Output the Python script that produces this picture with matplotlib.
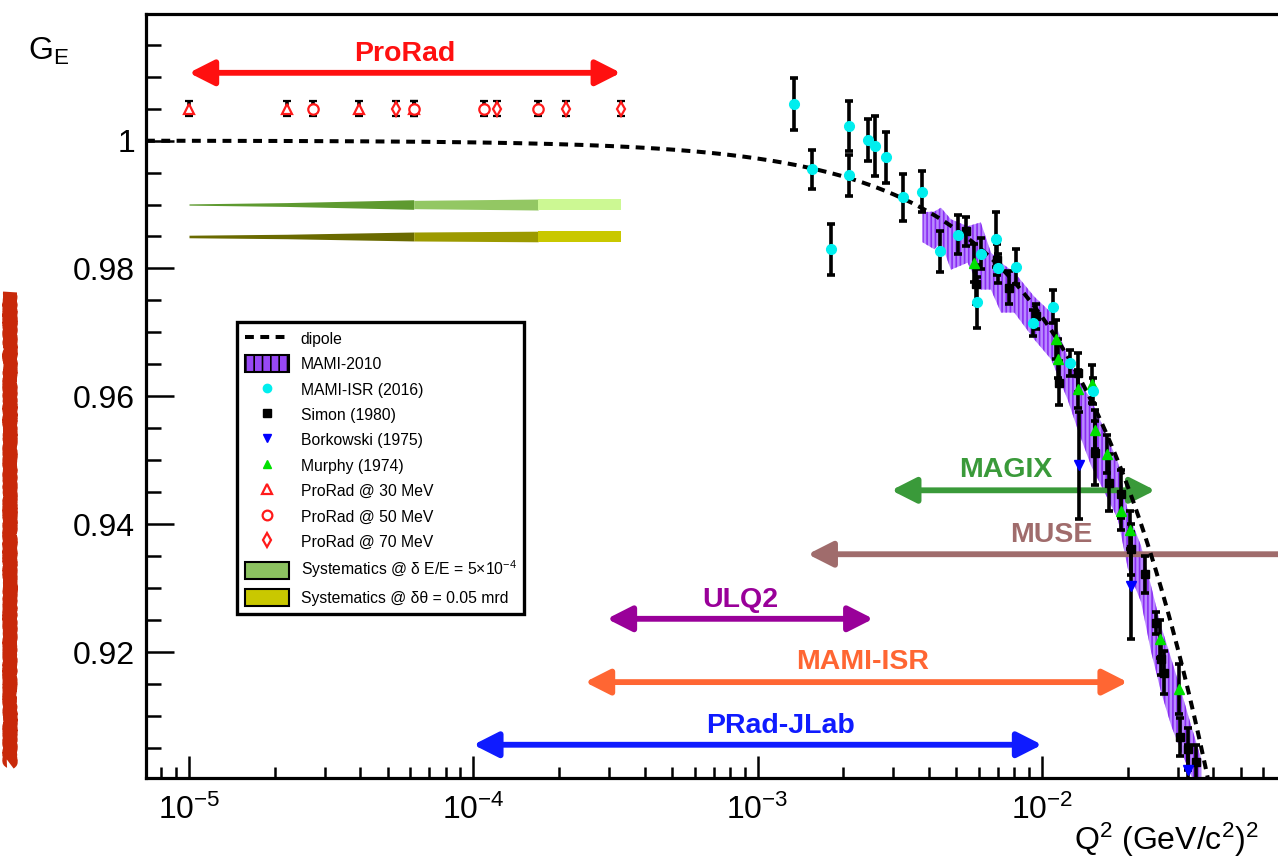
import numpy as np
import matplotlib
matplotlib.use("Agg")
import matplotlib.pyplot as plt
from matplotlib.lines import Line2D
from matplotlib.patches import Patch
from matplotlib.ticker import LogLocator, MultipleLocator, FuncFormatter, NullFormatter

plt.rcParams["font.family"] = ["Liberation Sans", "DejaVu Sans"]
plt.rcParams["mathtext.fontset"] = "custom"
plt.rcParams["mathtext.rm"] = "Liberation Sans"
plt.rcParams["mathtext.it"] = "Liberation Sans:italic"
plt.rcParams["mathtext.bf"] = "Liberation Sans:bold"
plt.rcParams["hatch.linewidth"] = 1.2

# ---------------- data ----------------
# ProRad projected points (G_E = 1.005 placeholder level)
prorad30_q2 = [1.0e-5, 2.21e-5, 3.95e-5, 6.17e-5]
prorad50_q2 = [2.74e-5, 6.17e-5, 1.09e-4, 1.69e-4]
prorad70_q2 = [5.35e-5, 1.21e-4, 2.12e-4, 3.31e-4]
prorad_ge = 1.005
prorad_err = 0.0012

# systematic bands: (Q2 nodes, half widths) per beam energy
sys_e_center = 0.990
sys_e_q2 = [[1.0e-5, 2.21e-5, 3.95e-5, 6.17e-5], [6.17e-5, 1.69e-4], [1.69e-4, 3.31e-4]]
sys_e_half = [[0.0001, 0.0003, 0.00055, 0.00075], [0.00065, 0.00086], [0.00089, 0.00089]]
sys_e_colors = ["#5e9a30", "#93c763", "#ccf893"]

sys_t_center = 0.985
sys_t_q2 = [[1.0e-5, 2.21e-5, 3.95e-5, 6.17e-5], [6.17e-5, 1.69e-4], [1.69e-4, 3.31e-4]]
sys_t_half = [[0.0002, 0.00035, 0.00055, 0.0007], [0.0007, 0.00083], [0.00083, 0.00083]]
sys_t_colors = ["#6a6a00", "#9c9a00", "#c9c800"]

# MAMI-2010 band
mami2010_q2 = [3.80e-3, 4.18e-3, 4.41e-3, 4.78e-3, 5.47e-3, 6.09e-3, 6.61e-3, 7.17e-3,
               7.99e-3, 9.39e-3, 1.076e-2, 1.23e-2, 1.335e-2, 1.489e-2, 1.637e-2,
               1.848e-2, 2.005e-2, 2.23e-2, 2.42e-2, 2.62e-2, 2.85e-2, 3.09e-2,
               3.35e-2, 3.63e-2]
mami2010_hi = [0.9888, 0.9889, 0.9895, 0.9877, 0.9866, 0.9872, 0.9825, 0.9809,
               0.9794, 0.9756, 0.9731, 0.9663, 0.9627, 0.9595, 0.9553,
               0.9497, 0.9419, 0.9366, 0.9303, 0.9241, 0.9189, 0.9138,
               0.9084, 0.9033]
mami2010_lo = [0.9841, 0.9830, 0.9841, 0.9798, 0.9809, 0.9767, 0.9767, 0.9731,
               0.9731, 0.9689, 0.9658, 0.9595, 0.9548, 0.9491, 0.9455,
               0.9408, 0.9330, 0.9278, 0.9200, 0.9138, 0.9084, 0.9044,
               0.9006, 0.8986]

# MAMI-ISR (2016)
isr_q2 = [1.34e-3, 1.55e-3, 1.81e-3, 2.10e-3, 2.10e-3, 2.44e-3, 2.59e-3, 2.82e-3,
          3.24e-3, 3.78e-3, 4.38e-3, 5.07e-3, 5.91e-3, 6.10e-3, 6.87e-3, 7.02e-3,
          8.11e-3, 9.33e-3, 1.09e-2, 1.25e-2, 1.51e-2]
isr_ge = [1.0057, 0.9955, 0.9830, 1.0023, 0.9946, 1.0001, 0.9992, 0.9974,
          0.9911, 0.9920, 0.9827, 0.9853, 0.9747, 0.9823, 0.9846, 0.9800,
          0.9803, 0.9715, 0.9740, 0.9652, 0.9608]
isr_err = [0.0041, 0.0031, 0.0040, 0.0039, 0.0032, 0.0033, 0.0047, 0.0040,
           0.0037, 0.0032, 0.0032, 0.0030, 0.0040, 0.0024, 0.0043, 0.0022,
           0.0028, 0.0020, 0.0026, 0.0020, 0.0020]

# Simon (1980)
simon_q2 = [5.40e-3, 5.87e-3, 6.93e-3, 7.67e-3, 9.52e-3, 1.15e-2, 1.34e-2, 1.53e-2,
            1.72e-2, 1.90e-2, 2.06e-2, 2.31e-2, 2.52e-2, 2.62e-2, 2.68e-2, 3.06e-2,
            3.26e-2, 3.47e-2]
simon_ge = [0.9858, 0.9775, 0.9814, 0.9770, 0.9725, 0.9621, 0.9637, 0.9512,
            0.9465, 0.9447, 0.9361, 0.9322, 0.9246, 0.9189, 0.9168, 0.9067,
            0.9048, 0.9028]
simon_err = [0.0023, 0.0030, 0.0025, 0.0026, 0.0020, 0.0034, 0.0030, 0.0050,
             0.0045, 0.0038, 0.0040, 0.0029, 0.0017, 0.0025, 0.0033, 0.0030,
             0.0033, 0.0027]

# Borkowski (1975)
bork_q2 = [1.35e-2, 2.06e-2, 3.26e-2]
bork_ge = [0.9492, 0.9304, 0.9015]
bork_err = [0.0084, 0.0083, 0.0040]

# Murphy (1974)
murphy_q2 = [5.78e-3, 1.12e-2, 1.14e-2, 1.34e-2, 1.50e-2, 1.53e-2, 1.69e-2, 1.90e-2,
             2.04e-2, 2.60e-2, 3.04e-2]
murphy_ge = [0.9809, 0.9689, 0.9659, 0.9611, 0.9619, 0.9548, 0.9510, 0.9421,
             0.9391, 0.9220, 0.9142]
murphy_err = [0.0030, 0.0030, 0.0030, 0.0030, 0.0030, 0.0030, 0.0030, 0.0030,
              0.0030, 0.0030, 0.0039]

# experiment coverage: name, Q2 range, level, colour
exp_names = ["ProRad", "MAGIX", "MUSE", "ULQ2", "MAMI-ISR", "PRad-JLab"]
exp_qmin = [1.0e-5, 2.95e-3, 1.5e-3, 2.95e-4, 2.47e-4, 1.0e-4]
exp_qmax = [3.3e-4, 2.5e-2, 8.0e-2, 2.55e-3, 2.0e-2, 1.0e-2]
exp_level = [1.0106, 0.9453, 0.9353, 0.9252, 0.9153, 0.9055]
exp_label_q2 = [5.75e-5, 7.46e-3, 1.077e-2, 8.7e-4, 2.34e-3, 1.2e-3]
exp_label_ge = [1.0135, 0.9484, 0.9383, 0.9282, 0.9184, 0.9085]
exp_colors = ["#ff1010", "#3a9a3a", "#a06c6c", "#990099", "#ff6633", "#0f1bff"]

DIPOLE_MASS2 = 0.71  # GeV^2

# ---------------- figure ----------------
fig = plt.figure(figsize=(12.78, 8.58), dpi=100)
ax = fig.add_axes([146 / 1278, 80 / 858, (1292 - 146) / 1278, (844 - 80) / 858])
ax.set_xscale("log")
ax.set_xlim(7.06e-6, 0.0757)
ax.set_ylim(0.9003, 1.0198)

# MAMI-2010 band
ax.fill_between(mami2010_q2, mami2010_lo, mami2010_hi, facecolor="#b98aff",
                edgecolor="#8a2cf2", hatch="||||", linewidth=0, zorder=1)

# systematics bands
for qs, hs, col in zip(sys_e_q2, sys_e_half, sys_e_colors):
    hs = np.asarray(hs)
    ax.fill_between(qs, sys_e_center - hs, sys_e_center + hs, color=col, lw=0, zorder=2)
for qs, hs, col in zip(sys_t_q2, sys_t_half, sys_t_colors):
    hs = np.asarray(hs)
    ax.fill_between(qs, sys_t_center - hs, sys_t_center + hs, color=col, lw=0, zorder=2)

# coverage arrows (MUSE only has a head on its low-Q2 end)
for name, q0, q1, lev, lq, lg, col in zip(exp_names, exp_qmin, exp_qmax, exp_level,
                                          exp_label_q2, exp_label_ge, exp_colors):
    style = "-|>" if name == "MUSE" else "<|-|>"
    ax.annotate("", xy=(q0, lev), xytext=(q1, lev), annotation_clip=False,
                arrowprops=dict(arrowstyle=style + ",head_length=0.75,head_width=0.38",
                                color=col, lw=4.2, shrinkA=0, shrinkB=0,
                                mutation_scale=20), zorder=2.5)
    ax.text(lq, lg, name, color=col, fontsize=20.5, fontweight="bold",
            ha="center", va="center", zorder=2.6)

# dipole curve
q_dip = np.logspace(np.log10(7.06e-6), np.log10(0.05), 400)
ax.plot(q_dip, (1 + q_dip / DIPOLE_MASS2) ** -2, color="k", lw=2.9,
        ls=(0, (2.2, 1.6)), zorder=3)

# data points
eb = dict(ecolor="k", elinewidth=2.6, capsize=2.8, capthick=2.6, ls="none", zorder=4)
ax.errorbar(simon_q2, simon_ge, yerr=simon_err, marker="s", ms=6, mfc="k", mec="k", **eb)
ax.errorbar(murphy_q2, murphy_ge, yerr=murphy_err, marker="^", ms=6.5, mfc="#00e000",
            mec="#00e000", **eb)
ax.errorbar(bork_q2, bork_ge, yerr=bork_err, marker="v", ms=6.5, mfc="#0000ff",
            mec="#0000ff", **eb)
ax.errorbar(isr_q2, isr_ge, yerr=isr_err, marker="o", ms=7, mfc="#00eeee",
            mec="#00eeee", **eb)

ebp = dict(ecolor="k", elinewidth=2.6, capsize=2.8, capthick=2.6, ls="none", zorder=4)
pr_mk = dict(mfc="white", mec="#ff1a1a", mew=1.6)
ax.errorbar(prorad30_q2, [prorad_ge] * len(prorad30_q2), yerr=prorad_err,
            marker="^", ms=7.5, **pr_mk, **ebp)
ax.errorbar(prorad50_q2, [prorad_ge] * len(prorad50_q2), yerr=prorad_err,
            marker="o", ms=7.5, **pr_mk, **ebp)
ax.errorbar(prorad70_q2, [prorad_ge] * len(prorad70_q2), yerr=prorad_err,
            marker="d", ms=7.5, **pr_mk, **ebp)

# axes styling
for side in ("left", "bottom", "top"):
    ax.spines[side].set_linewidth(2.3)
ax.spines["right"].set_visible(False)
ax.xaxis.set_major_locator(LogLocator(base=10, numticks=10))
ax.xaxis.set_minor_locator(LogLocator(base=10, subs=np.arange(2, 10), numticks=20))
ax.xaxis.set_minor_formatter(NullFormatter())
ax.yaxis.set_major_locator(MultipleLocator(0.02))
ax.yaxis.set_minor_locator(MultipleLocator(0.005))
ax.yaxis.set_major_formatter(FuncFormatter(lambda v, p: f"{v:.2f}".rstrip("0").rstrip(".")))
ax.tick_params(axis="both", which="both", direction="in", width=1.8, labelsize=23,
               top=False, right=False)
ax.tick_params(axis="x", which="major", length=16, pad=12)
ax.tick_params(axis="x", which="minor", length=8)
ax.tick_params(axis="y", which="major", length=20, pad=8)
ax.tick_params(axis="y", which="minor", length=11)

fig.text(28 / 1278, 1 - 60 / 858, r"G$_\mathregular{E}$", fontsize=23, ha="left",
         va="baseline")
fig.text(1074 / 1278, 1 - 850 / 858, r"Q$^\mathregular{2}$ (GeV/c$^\mathregular{2}$)$^\mathregular{2}$",
         fontsize=23, ha="left", va="baseline")

# legend
handles = [
    Line2D([], [], color="k", lw=2.9, ls=(0, (2.2, 1.6))),
    Patch(facecolor="#9848f5", edgecolor="k", hatch="||", lw=1.5),
    Line2D([], [], marker="o", color="#00eeee", ls="none", ms=6),
    Line2D([], [], marker="s", color="k", ls="none", ms=5.5),
    Line2D([], [], marker="v", color="#0000ff", ls="none", ms=6),
    Line2D([], [], marker="^", color="#00e000", ls="none", ms=6),
    Line2D([], [], marker="^", ls="none", ms=7, **pr_mk),
    Line2D([], [], marker="o", ls="none", ms=7, **pr_mk),
    Line2D([], [], marker="d", ls="none", ms=7, **pr_mk),
    Patch(facecolor="#8cc260", edgecolor="k", lw=1.5),
    Patch(facecolor="#c9c800", edgecolor="k", lw=1.5),
]
labels = ["dipole", "MAMI-2010", "MAMI-ISR (2016)", "Simon (1980)", "Borkowski (1975)",
          "Murphy (1974)", "ProRad @ 30 MeV", "ProRad @ 50 MeV", "ProRad @ 70 MeV",
          "Systematics @ δ E/E = 5×10$^{-4}$", "Systematics @ δθ = 0.05 mrd"]
leg = ax.legend(handles, labels, loc="upper left", bbox_to_anchor=(237 / 1278, 1 - 322 / 858),
                bbox_transform=fig.transFigure, borderaxespad=0, fontsize=11.3,
                frameon=True, fancybox=False, framealpha=1, edgecolor="k",
                handlelength=2.8, handleheight=1.3, handletextpad=0.75,
                labelspacing=0.53, borderpad=0.5)
leg.get_frame().set_linewidth(2.4)
leg.set_zorder(10)

# hand-drawn marker strip on the left margin
strip = Line2D([10 / 1278, 10 / 1278], [1 - 292 / 858, 1 - 763 / 858],
               transform=fig.transFigure, color="#c8290a", lw=10, solid_capstyle="butt")
strip.set_sketch_params(scale=0.8, length=2, randomness=40)
fig.add_artist(strip)

fig.savefig("out.png", dpi=100)
